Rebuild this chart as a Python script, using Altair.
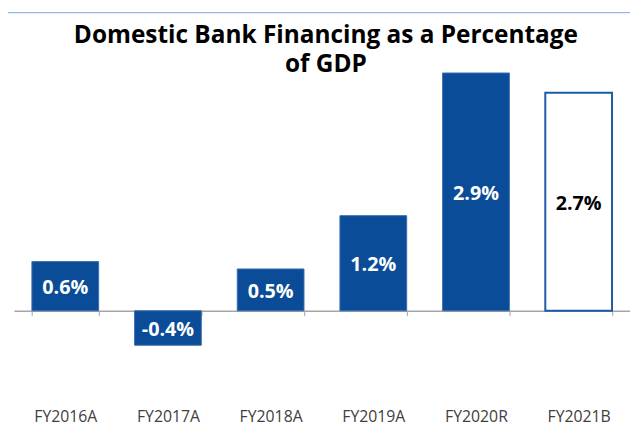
import altair as alt
import pandas as pd

categories = ["FY2016A", "FY2017A", "FY2018A", "FY2019A", "FY2020R", "FY2021B"]
values = [0.60, -0.42, 0.51, 1.16, 2.90, 2.66]
labels = [f"{v:.1f}%" for v in values]
title_lines = ["Domestic Bank Financing as a Percentage", "of GDP"]

df = pd.DataFrame({"cat": categories, "val": values, "lab": labels})

BLUE = "#0A4C97"
GRAY = "#A6A6A6"
W, H = 624, 387
YMIN, YMAX = -1.0, 3.66
zero_offset = -(0 - YMIN) / (YMAX - YMIN) * H

y_scale = alt.Scale(domain=[YMIN, YMAX], nice=False, zero=False)
x_scale = alt.Scale(paddingInner=0.35, paddingOuter=0.175)
is_budget = alt.datum.cat == "FY2021B"

x_axis = alt.Axis(
    title=None, labelAngle=0, labelFont="Open Sans", labelFontSize=16,
    labelColor="#404040", domain=True, domainColor=GRAY, domainWidth=1.5,
    ticks=True, tickBand="extent", tickColor=GRAY, tickWidth=1, tickSize=5,
    offset=zero_offset, labelPadding=-zero_offset + 11, labelBaseline="top",
)

base = alt.Chart(df)

bars = base.mark_bar().encode(
    x=alt.X("cat:N", sort=categories, scale=x_scale, axis=x_axis),
    y=alt.Y("val:Q", scale=y_scale, axis=None),
    y2=alt.datum(0),
    fill=alt.condition(is_budget, alt.value("white"), alt.value(BLUE)),
    stroke=alt.condition(is_budget, alt.value("#1F5AA6"), alt.value("#3A6CB0")),
    strokeWidth=alt.condition(is_budget, alt.value(2), alt.value(1)),
)

text = base.transform_calculate(mid="datum.val / 2").mark_text(
    font="Open Sans", fontSize=20, fontWeight="bold", baseline="middle", dy=2
).encode(
    x=alt.X("cat:N", sort=categories, scale=x_scale),
    y=alt.Y("mid:Q", scale=y_scale, axis=None),
    text="lab:N",
    color=alt.condition(is_budget, alt.value("black"), alt.value("white")),
)

topline = alt.Chart(pd.DataFrame({"k": [0]})).mark_rule(
    color="#7BA7DD", strokeWidth=1
).encode(x=alt.value(-6), x2=alt.value("width"), y=alt.value(2))

chart = alt.layer(bars, text, topline).properties(
    width=W, height=H,
    autosize=alt.AutoSizeParams(type="none"),
    padding={"left": 6, "top": 0, "right": 0, "bottom": 38},
    title=alt.TitleParams(
        text=title_lines, font="Open Sans", fontSize=24.7, fontWeight="bold",
        color="black", anchor="middle", frame="group", baseline="top",
        lineHeight=30, offset=0, dy=67, dx=4,
    ),
).configure_view(stroke=None)

chart.save("out.html", embed_options={"renderer": "svg", "actions": False})
